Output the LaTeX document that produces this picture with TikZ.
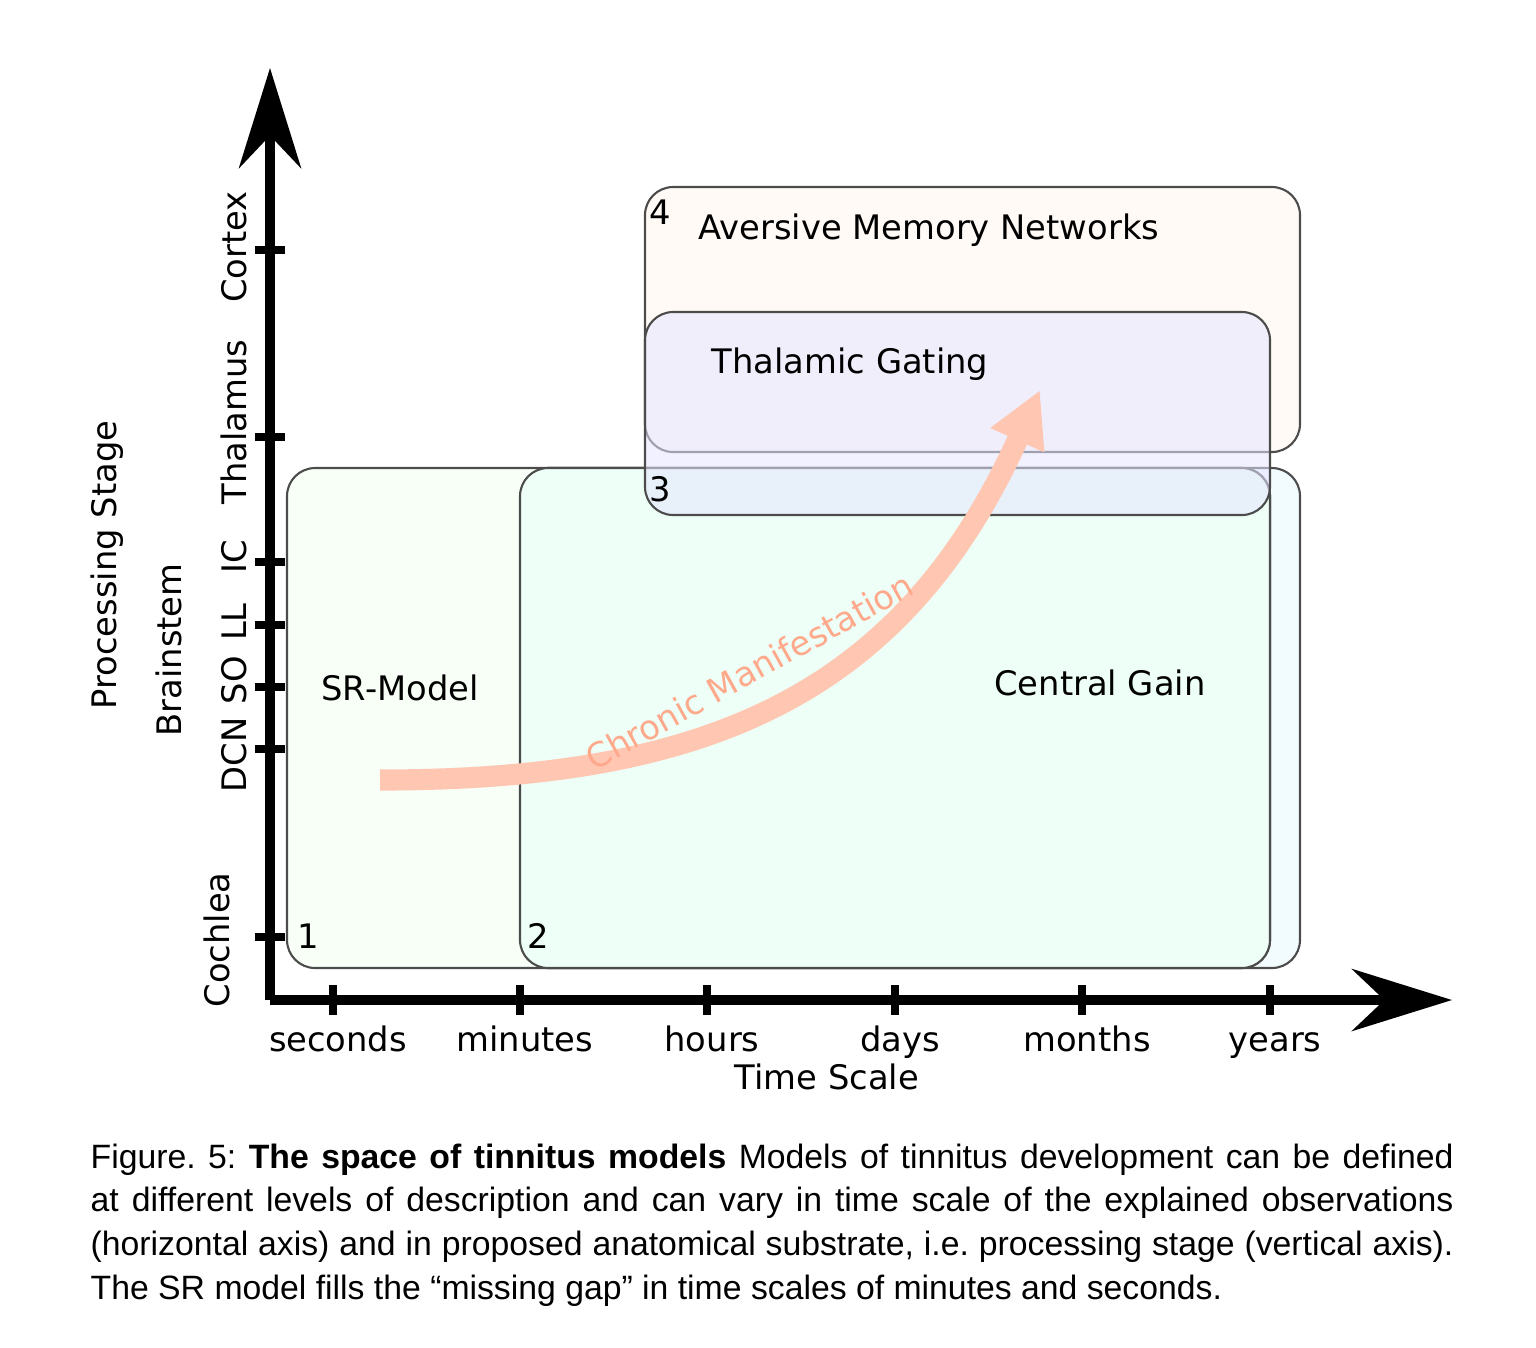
\documentclass[tikz,border=0pt]{standalone}
\usepackage{fontspec}
\setmainfont{DejaVu Sans}
\newfontfamily\capfont{Liberation Sans}
\usetikzlibrary{arrows.meta}
\tikzset{
  modelbox/.style={draw=black!70, rounded corners=8pt, line width=0.6pt},
  tick/.style={line width=2.2pt},
  axis/.style={line width=2.6pt, -{Stealth[length=1cm,width=0.62cm]}},
  lbl/.style={font=\fontsize{9.6}{12}\selectfont, text height=1.5ex, text depth=0.3ex},
  ylbl/.style={font=\fontsize{9.6}{11}\selectfont, rotate=90, text height=1.5ex, text depth=0.3ex}
}
\frenchspacing
\begin{document}
\begin{tikzpicture}[x=0.01cm,y=-0.01cm]
  \useasboundingbox (0,0) rectangle (1536,1347);
  % model boxes
  \draw[modelbox, fill=cyan!5] (520,468) rectangle (1300,968);
  \draw[modelbox, fill=green!3] (287,468) rectangle (1270,968);
  \draw[modelbox, fill=green!50!cyan!7] (520,468) rectangle (1270,968);
  \draw[modelbox, fill=orange!4] (645,187) rectangle (1300,452);
  \draw[modelbox, fill=blue!10, fill opacity=0.55] (645,312) rectangle (1270,515);
  \node[lbl] (n1) at (308,937) {1};
  \node[lbl] (n2) at (538,937) {2};
  \node[lbl] (n3) at (660,490) {3};
  \node[lbl] (n4) at (660,213) {4};
  \node[lbl] (sr) at (400,689) {SR-Model};
  \node[lbl] (cg) at (1100,684) {Central Gain};
  \node[lbl] (tg) at (850,362) {Thalamic Gating};
  \node[lbl, anchor=west] (am) at (686,228) {Aversive Memory Networks};
  % chronic manifestation
  \draw[orange!50!red!30, line width=6pt, -{Triangle[length=0.55cm,width=0.55cm]}]
    (380,780) .. controls (700,780) and (900,700) .. (1040,390);
  \node[lbl, text=orange!50!red!45, rotate=29] (cm) at (750,672) {Chronic Manifestation};
  % axes
  \coordinate (o) at (270,1000);
  \coordinate (ytop) at (270,68);
  \coordinate (xend) at (1452,1000);
  \draw[axis] (o) -- (ytop);
  \draw[axis] (o) -- (xend);
  \foreach \yy/\name/\xx in {247/Cortex/235,422/Thalamus/235,557/IC/235,622/LL/235,680/SO/235,755/DCN/235,940/Cochlea/218}{
    \node[ylbl] at (\xx,\yy) {\name};
  }
  \foreach \yy in {250,437,562,625,687,749,937}{
    \draw[tick] (255,\yy) -- (285,\yy);
  }
  \foreach \xx/\name in {333/seconds,520/minutes,707/hours,895/days,1082/months,1270/years}{
    \draw[tick] (\xx,985) -- (\xx,1015);
    \node[lbl] at (\xx+5,1040) {\name};
  }
  \node[lbl] (ts) at (827,1078) {Time Scale};
  \node[ylbl] (bs) at (170,650) {Brainstem};
  \node[ylbl] (ps) at (105,565) {Processing Stage};
  % caption
  \node[anchor=north west, text width=13.62cm, align=justify, inner sep=0pt,
    font=\capfont\fontsize{9.6}{12.4}\selectfont] (cap) at (90,1143)
    {Figure. 5: \textbf{The space of tinnitus models} Models of tinnitus development can be defined at different levels of description and can vary in time scale of the explained observations (horizontal axis) and in proposed anatomical substrate, i.e. processing stage (vertical axis). The SR model fills the “missing gap” in time scales of minutes and seconds.};
\end{tikzpicture}
\end{document}
